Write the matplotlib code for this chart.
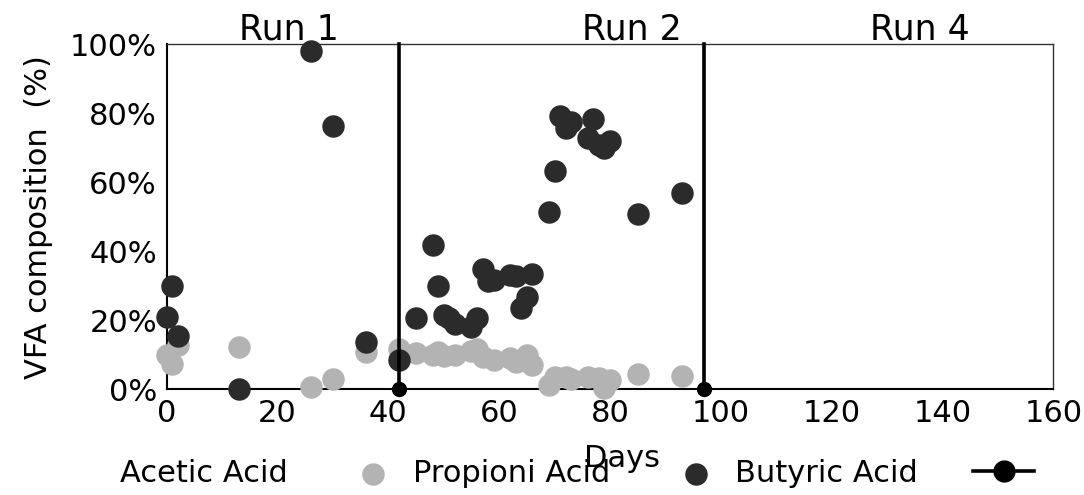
import numpy as np
import matplotlib
matplotlib.use("Agg")
import matplotlib.pyplot as plt
from matplotlib.lines import Line2D
from matplotlib.ticker import PercentFormatter

# butyric acid (dark dots), fraction of total VFA
butyric_days = [0, 1, 2, 13, 26, 30, 36, 42, 45, 48, 49, 50, 51, 52, 55, 56, 57, 58, 59,
                62, 63, 64, 65, 66, 69, 70, 71, 72, 73, 76, 77, 78, 79, 80, 85, 93]
butyric = [0.210, 0.300, 0.154, 0.0, 0.981, 0.764, 0.135, 0.084, 0.207, 0.418, 0.299,
           0.215, 0.205, 0.188, 0.181, 0.205, 0.347, 0.313, 0.316, 0.331, 0.328, 0.236,
           0.268, 0.333, 0.514, 0.633, 0.792, 0.756, 0.775, 0.727, 0.783, 0.708, 0.698,
           0.719, 0.508, 0.568]

# propionic acid (light dots)
propionic_days = [0, 1, 2, 13, 26, 30, 36, 42, 45, 48, 49, 50, 52, 55, 56, 57, 59, 62,
                  63, 65, 66, 69, 70, 72, 73, 76, 78, 79, 80, 85, 93]
propionic = [0.099, 0.074, 0.128, 0.121, 0.005, 0.030, 0.106, 0.116, 0.104, 0.100,
             0.108, 0.096, 0.100, 0.110, 0.116, 0.092, 0.085, 0.089, 0.079, 0.099,
             0.070, 0.012, 0.036, 0.036, 0.028, 0.034, 0.033, 0.003, 0.026, 0.045, 0.038]

acetic_days = []
acetic = []

run_ends = [42, 97]
run_labels = ["Run 1", "Run 2", "Run 4"]
run_label_x = [22, 84, 136]

dark = "#2b2b2b"
light = "#b3b3b3"

fig = plt.figure(figsize=(10.84, 4.95), dpi=100)
ax = fig.add_axes([0.1538, 0.2141, 0.8179, 0.6964])

ac = ax.scatter(acetic_days, acetic, s=230, color="white", label="Acetic Acid")
pr = ax.scatter(propionic_days, propionic, s=230, color=light, clip_on=False,
                zorder=3, label="Propioni Acid")
bu = ax.scatter(butyric_days, butyric, s=230, color=dark, clip_on=False,
                zorder=3, label="Butyric Acid")

for xe in run_ends:
    ax.plot([xe, xe], [0, 1], color="black", lw=2.6, marker="o", ms=10,
            markevery=[0], clip_on=False, zorder=4)

for x, lab in zip(run_label_x, run_labels):
    ax.text(x, 1.0125, lab, fontsize=25, ha="center", va="baseline")

ax.set_xlim(0, 160)
ax.set_ylim(0, 1)
ax.set_xticks(np.arange(0, 161, 20))
ax.set_yticks(np.arange(0, 1.01, 0.2))
ax.yaxis.set_major_formatter(PercentFormatter(1.0, decimals=0))
ax.tick_params(length=0, pad=7, labelsize=22)

for side in ["top", "right"]:
    ax.spines[side].set_color("#333333")
    ax.spines[side].set_linewidth(1.0)
for side in ["left", "bottom"]:
    ax.spines[side].set_color("black")
    ax.spines[side].set_linewidth(1.5)

ax.set_ylabel("VFA composition  (%)", fontsize=22, labelpad=12)
ax.set_xlabel("Days", fontsize=22)
ax.xaxis.set_label_coords(0.514, -0.16)

line_handle = Line2D([], [], color="black", lw=2.6, marker="o", ms=15)
fig.legend([ac, pr, bu, line_handle],
           ["Acetic Acid", "Propioni Acid", "Butyric Acid", ""],
           loc="center", bbox_to_anchor=(0.504, 0.044), ncol=4, frameon=False,
           fontsize=22, handletextpad=0.3, columnspacing=1.8, scatterpoints=1)

fig.savefig("out.png", dpi=100)
